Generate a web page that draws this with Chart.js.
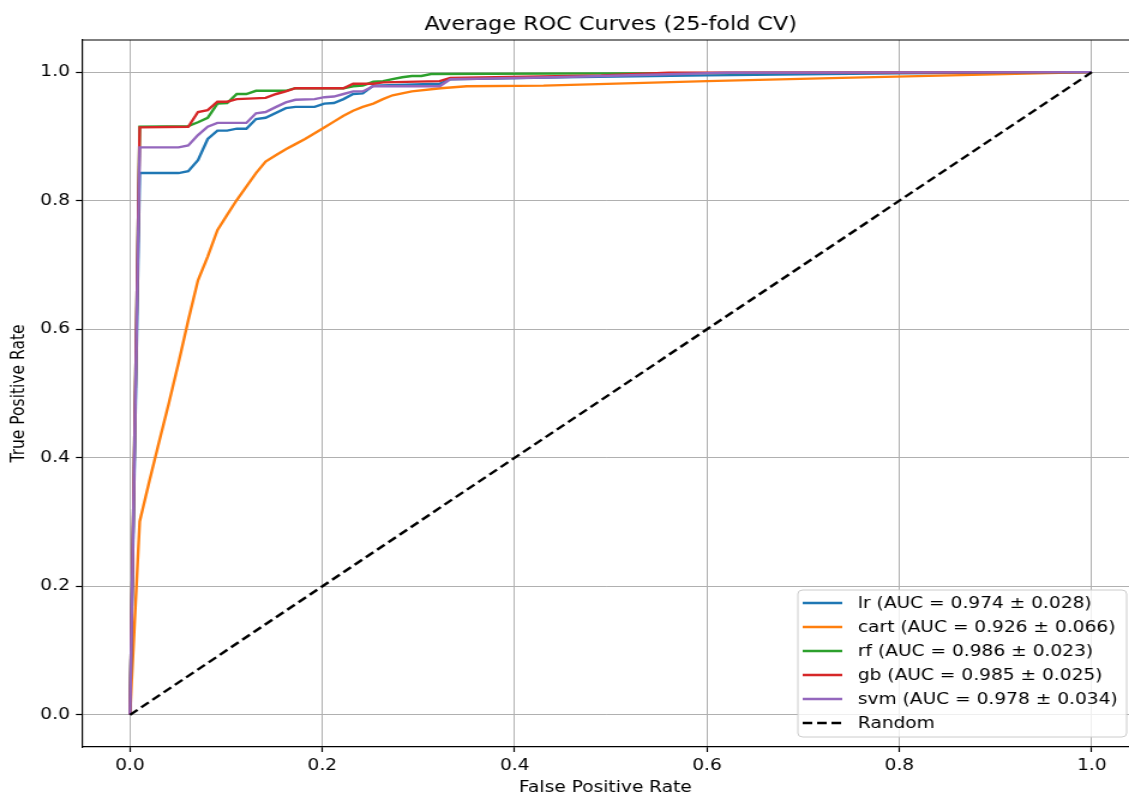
<!DOCTYPE html>
<html>
<head>
<meta charset="utf-8">
<style>
html,body{margin:0;padding:0;background:#fff;overflow:hidden;}
#wrap{width:941px;height:793px;transform:scaleX(1.19979);transform-origin:0 0;}
canvas{display:block;}
</style>
<script src="https://cdn.jsdelivr.net/npm/chart.js@4.4.1/dist/chart.umd.min.js"></script>
</head>
<body>
<div id="wrap"><canvas id="c" width="941" height="793"></canvas></div>
<script>
// ---------------- data ----------------
const chartTitle = 'Average ROC Curves (25-fold CV)';
const xTitle = 'False Positive Rate';
const yTitle = 'True Positive Rate';
const tickVals = [0, 0.2, 0.4, 0.6, 0.8, 1.0];

const modelNames = ['lr', 'cart', 'rf', 'gb', 'svm'];
const aucMean = [0.974, 0.926, 0.986, 0.985, 0.978];
const aucStd  = [0.028, 0.066, 0.023, 0.025, 0.034];
const colors  = ['#1f77b4', '#ff7f0e', '#2ca02c', '#d62728', '#9467bd'];

const lrFpr = [0, 0.0101, 0.0505, 0.0606, 0.0707, 0.0808, 0.0909, 0.101, 0.111, 0.121, 0.131, 0.141, 0.162, 0.172, 0.192, 0.202, 0.212, 0.222, 0.232, 0.242, 0.253, 0.322, 0.333, 0.45, 0.6, 0.8, 1.0];
const lrTpr = [0, 0.843, 0.843, 0.846, 0.863, 0.896, 0.909, 0.909, 0.912, 0.912, 0.927, 0.929, 0.944, 0.946, 0.946, 0.951, 0.952, 0.958, 0.966, 0.967, 0.979, 0.982, 0.989, 0.992, 0.995, 0.998, 1.0];

const cartFpr = [0, 0.0101, 0.0202, 0.0303, 0.0404, 0.0505, 0.0606, 0.0707, 0.0808, 0.0909, 0.101, 0.111, 0.121, 0.131, 0.141, 0.152, 0.162, 0.172, 0.182, 0.192, 0.202, 0.212, 0.222, 0.232, 0.242, 0.253, 0.263, 0.273, 0.293, 0.323, 0.35, 0.43, 0.6, 0.74, 1.0];
const cartTpr = [0, 0.301, 0.364, 0.425, 0.485, 0.548, 0.614, 0.676, 0.713, 0.754, 0.778, 0.801, 0.822, 0.843, 0.861, 0.871, 0.880, 0.888, 0.896, 0.905, 0.914, 0.923, 0.932, 0.940, 0.946, 0.951, 0.958, 0.964, 0.970, 0.975, 0.978, 0.979, 0.986, 0.991, 1.0];

const rfFpr = [0, 0.0101, 0.0606, 0.0707, 0.0808, 0.0909, 0.101, 0.111, 0.121, 0.131, 0.162, 0.172, 0.222, 0.232, 0.242, 0.253, 0.263, 0.273, 0.283, 0.293, 0.303, 0.313, 0.5, 1.0];
const rfTpr = [0, 0.915, 0.916, 0.922, 0.929, 0.951, 0.952, 0.966, 0.966, 0.971, 0.971, 0.975, 0.975, 0.978, 0.979, 0.985, 0.986, 0.989, 0.992, 0.994, 0.994, 0.997, 0.998, 1.0];

const gbFpr = [0, 0.0101, 0.0606, 0.0707, 0.0808, 0.0909, 0.101, 0.111, 0.141, 0.152, 0.162, 0.172, 0.222, 0.232, 0.253, 0.263, 0.322, 0.333, 0.49, 0.56, 0.8, 1.0];
const gbTpr = [0, 0.914, 0.915, 0.938, 0.941, 0.954, 0.954, 0.958, 0.960, 0.966, 0.970, 0.975, 0.975, 0.982, 0.982, 0.984, 0.986, 0.991, 0.995, 0.999, 0.9995, 1.0];

const svmFpr = [0, 0.0101, 0.0505, 0.0606, 0.0707, 0.0808, 0.0909, 0.121, 0.131, 0.141, 0.152, 0.162, 0.172, 0.192, 0.202, 0.212, 0.222, 0.232, 0.242, 0.253, 0.322, 0.333, 0.44, 0.62, 1.0];
const svmTpr = [0, 0.883, 0.883, 0.886, 0.902, 0.915, 0.921, 0.921, 0.936, 0.938, 0.946, 0.953, 0.957, 0.958, 0.961, 0.962, 0.966, 0.970, 0.970, 0.978, 0.978, 0.989, 0.992, 0.999, 1.0];

const randomFpr = [0, 1];
const randomTpr = [0, 1];
const randomLabel = 'Random';

// ---------------- build ----------------
const FONT = 'DejaVu Sans';
Chart.defaults.font.family = FONT;
Chart.defaults.color = '#000';

const fprs = [lrFpr, cartFpr, rfFpr, gbFpr, svmFpr];
const tprs = [lrTpr, cartTpr, rfTpr, gbTpr, svmTpr];
const toPts = (xs, ys) => xs.map((x, i) => ({x: x, y: ys[i]}));

const datasets = modelNames.map((n, k) => ({
  label: n + ' (AUC = ' + aucMean[k].toFixed(3) + ' \u00b1 ' + aucStd[k].toFixed(3) + ')',
  data: toPts(fprs[k], tprs[k]),
  borderColor: colors[k],
  backgroundColor: colors[k],
  borderWidth: 2.4,
  pointRadius: 0,
  tension: 0,
  fill: false,
  order: 10 - k
}));
datasets.push({
  label: randomLabel,
  data: toPts(randomFpr, randomTpr),
  borderColor: '#000',
  backgroundColor: '#000',
  borderWidth: 2.4,
  borderDash: [8, 4],
  pointRadius: 0,
  fill: false,
  order: 0
});

const framePlugin = {
  id: 'frame',
  afterDatasetsDraw(chart) {
    const {ctx, chartArea: a} = chart;
    ctx.save();
    ctx.strokeStyle = '#000';
    ctx.lineWidth = 1.2;
    ctx.beginPath();
    ctx.moveTo(a.left, a.top);
    ctx.lineTo(a.right, a.top);
    ctx.stroke();
    ctx.restore();
  }
};

const titlePlugin = {
  id: 'customTitle',
  afterDraw(chart) {
    const ctx = chart.ctx;
    ctx.save();
    ctx.font = '18.6px "' + FONT + '"';
    ctx.fillStyle = '#000';
    ctx.textAlign = 'center';
    ctx.textBaseline = 'middle';
    ctx.fillText(chartTitle, 509, 25);
    ctx.restore();
  }
};

const legendPlugin = {
  id: 'customLegend',
  afterDraw(chart) {
    const ctx = chart.ctx;
    const bx = 665, by = 590, bw = 274, bh = 147, r = 4;
    ctx.save();
    ctx.beginPath();
    ctx.roundRect(bx, by, bw, bh, r);
    ctx.fillStyle = 'rgba(255,255,255,0.8)';
    ctx.fill();
    ctx.strokeStyle = '#cccccc';
    ctx.lineWidth = 1;
    ctx.stroke();
    ctx.font = '15.5px "' + FONT + '"';
    ctx.textBaseline = 'middle';
    ctx.textAlign = 'left';
    chart.data.datasets.forEach((ds, i) => {
      const y = 603 + i * 24;
      ctx.beginPath();
      ctx.setLineDash(ds.borderDash || []);
      ctx.strokeStyle = ds.borderColor;
      ctx.lineWidth = 2.4;
      ctx.moveTo(669, y);
      ctx.lineTo(702, y);
      ctx.stroke();
      ctx.setLineDash([]);
      ctx.fillStyle = '#000';
      ctx.fillText(ds.label, 715, y + 1);
    });
    ctx.restore();
  }
};

const axisCommon = {
  type: 'linear',
  afterBuildTicks: s => { s.ticks = tickVals.map(v => ({value: v})); },
  grid: {color: '#b0b0b0', lineWidth: 1, tickColor: '#000', tickLength: 5, tickWidth: 1.2, drawTicks: true},
  border: {display: true, color: '#000', width: 1.2},
  ticks: {font: {size: 15.5}, color: '#000', padding: 5, callback: v => Number(v).toFixed(1), maxRotation: 0, autoSkip: false}
};

new Chart(document.getElementById('c'), {
  type: 'line',
  data: {datasets: datasets},
  options: {
    responsive: false,
    animation: false,
    devicePixelRatio: 1,
    layout: {padding: {top: 40, left: 0, right: 0, bottom: 0}},
    plugins: {legend: {display: false}, tooltip: {enabled: false}, title: {display: false}},
    scales: {
      x: Object.assign({}, axisCommon, {
        min: -0.05, max: 1.0387,
        afterFit: s => { s.height = 46; },
        title: {display: true, text: xTitle, font: {size: 15.5}, color: '#000', padding: {top: 0, bottom: -4}}
      }),
      y: Object.assign({}, axisCommon, {
        min: -0.05, max: 1.05,
        afterFit: s => { s.width = 68.25; },
        title: {display: true, text: yTitle, font: {size: 15.5}, color: '#000', padding: {top: 7, bottom: 0}}
      })
    }
  },
  plugins: [framePlugin, titlePlugin, legendPlugin]
});
</script>
</body>
</html>
